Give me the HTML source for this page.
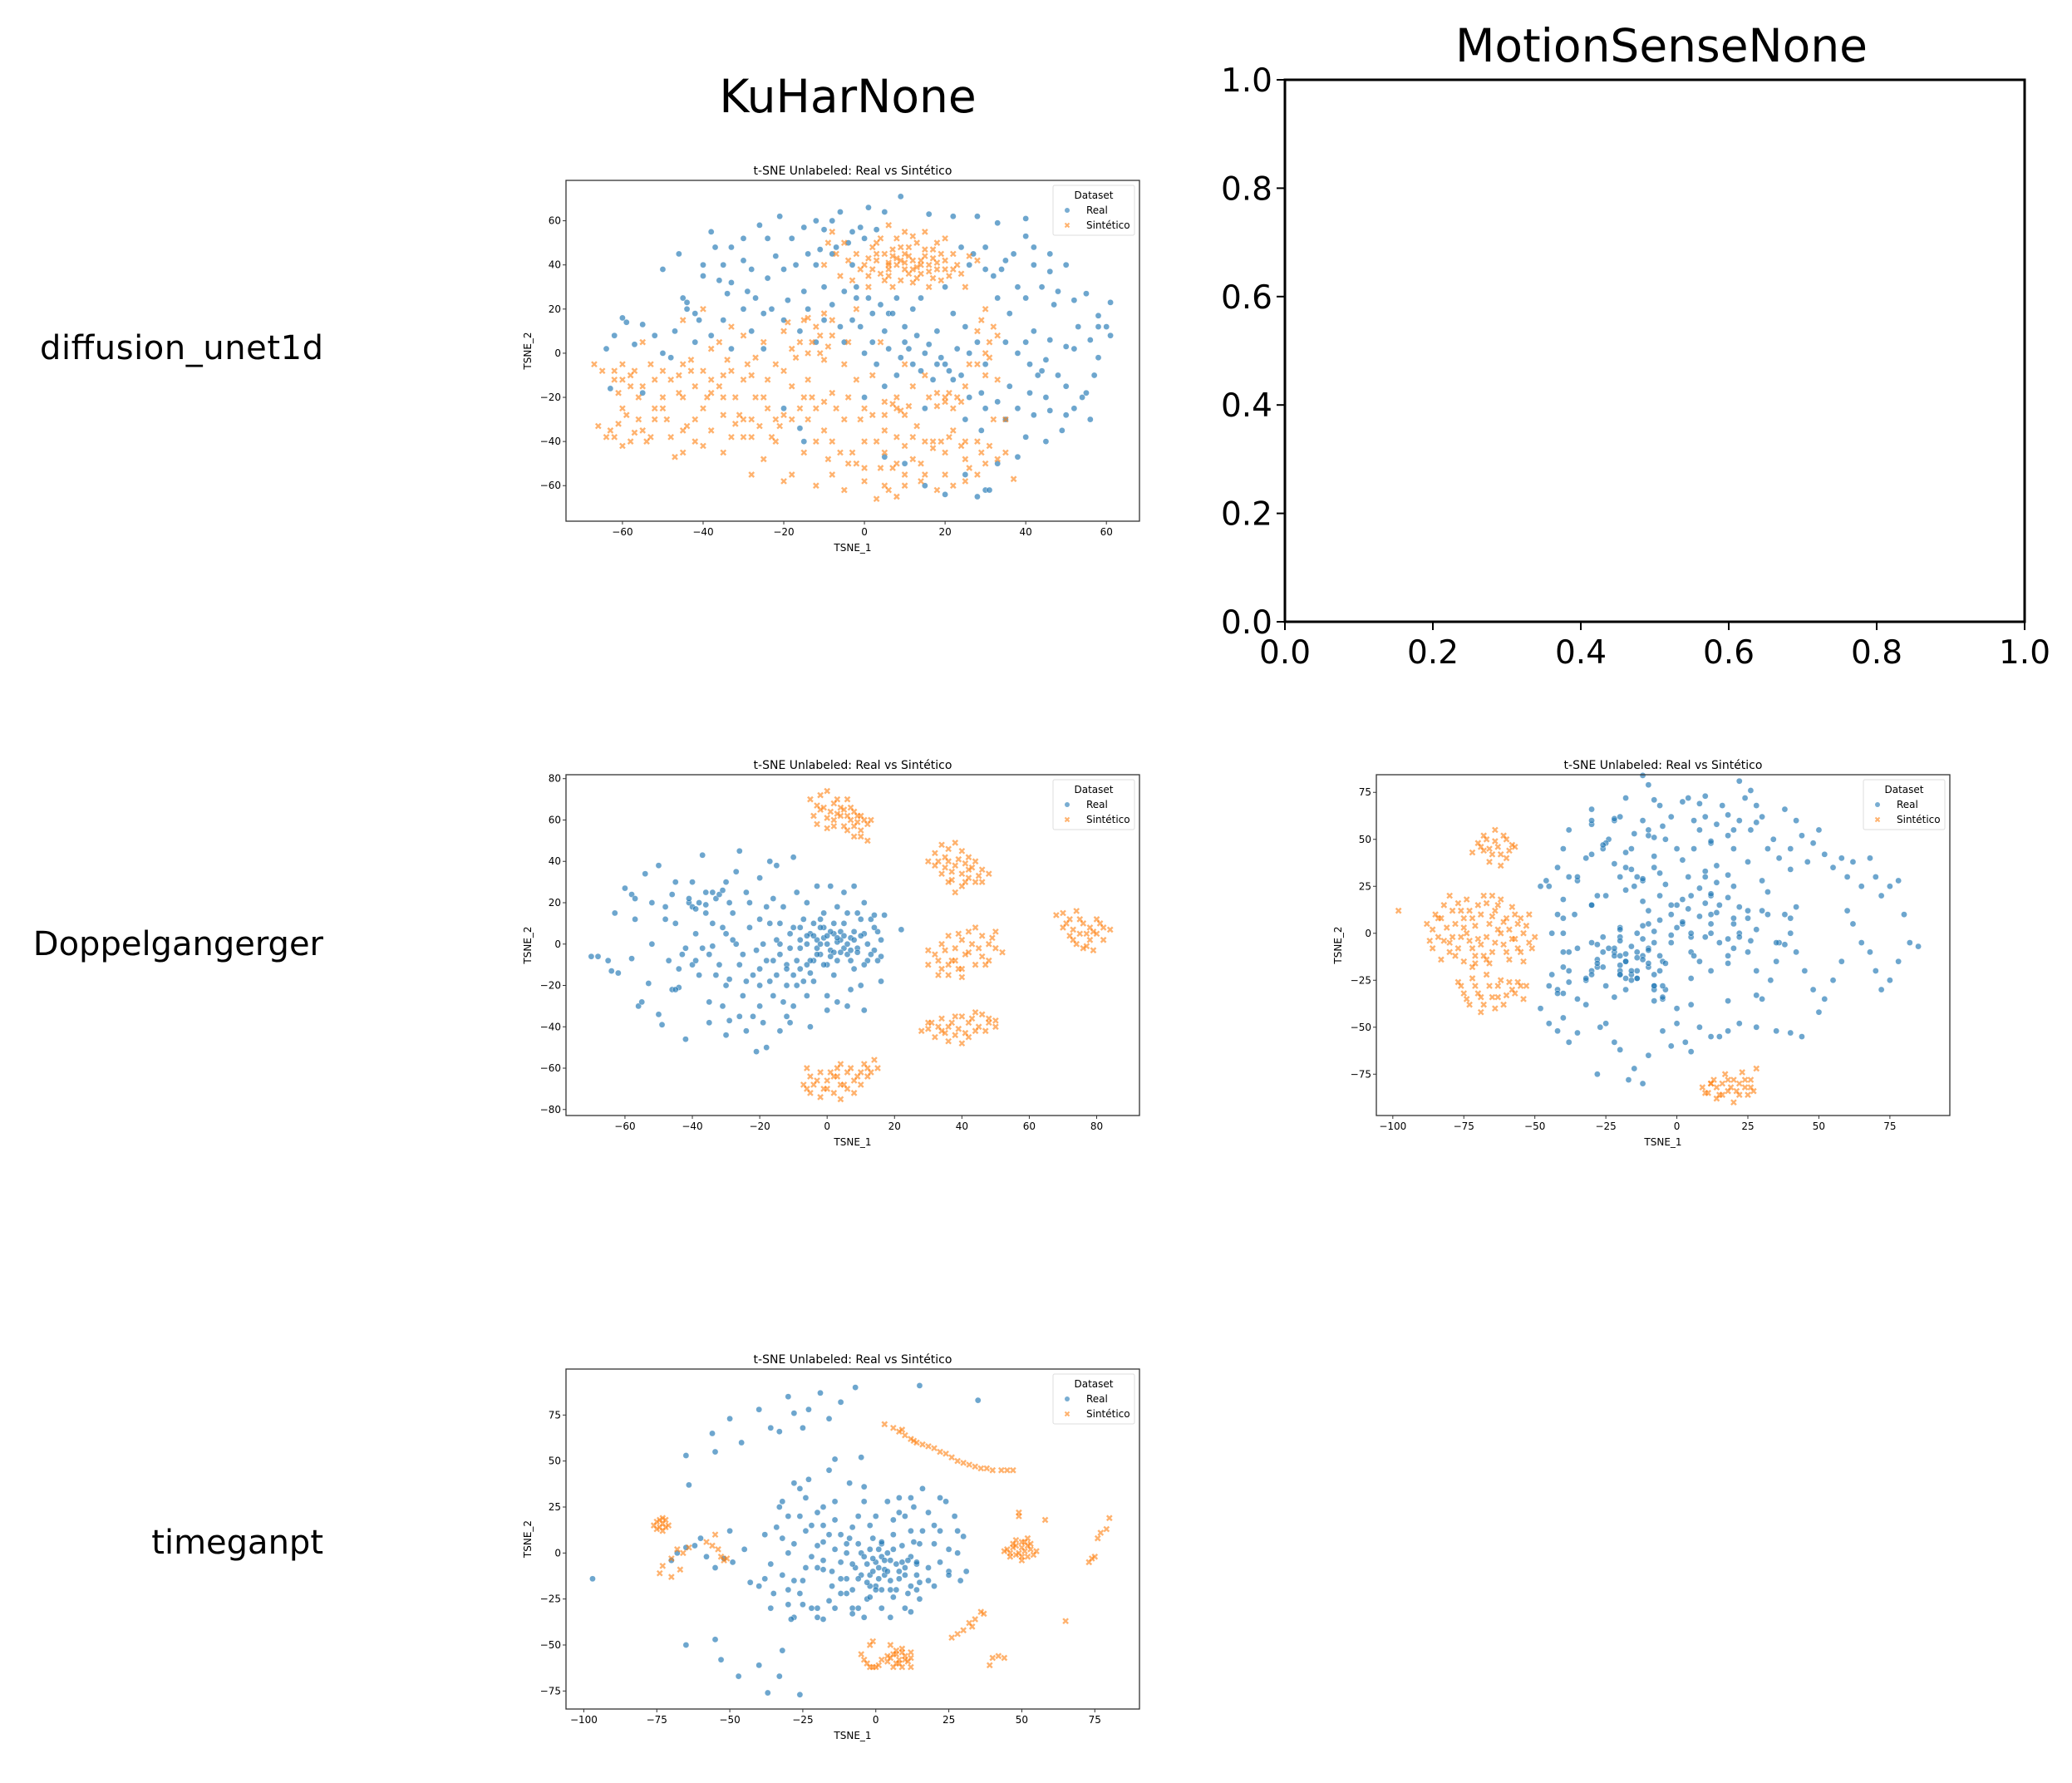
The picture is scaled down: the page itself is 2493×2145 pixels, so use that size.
<!DOCTYPE html>
<html><head><meta charset="utf-8"><style>
html,body{margin:0;padding:0;background:#fff}
svg{display:block;font-family:"DejaVu Sans","Liberation Sans",sans-serif}
</style></head><body>
<svg id="fig" width="2493" height="2145" viewBox="0 0 2493 2145" xmlns="http://www.w3.org/2000/svg">
<rect width="2493" height="2145" fill="#fff"/>
<text x="1020" y="135" font-size="55" text-anchor="middle">KuHarNone</text>
<text x="1999" y="74" font-size="55" text-anchor="middle">MotionSenseNone</text>
<text x="389" y="432" font-size="40" text-anchor="end" textLength="341">diffusion_unet1d</text>
<text x="389" y="1149" font-size="40" text-anchor="end">Doppelgangerger</text>
<text x="389" y="1869" font-size="40" text-anchor="end">timeganpt</text>
<g id="empty"></g>
<g id="p1"></g>
<g id="p2"></g>
<g id="p3"></g>
<g id="p4"></g>
</svg>
<script>
// ---- data (x,y pairs, flattened) ----
const p1Real=[-60,16,-62,8,-64,2,-55,13,-52,8,-50,0,-47,10,-45,25,-46,45,-42,18,-40,40,-38,55,-37,48,-36,33,-33,32,-30,42,-28,38,-26,58,-24,52,-24,34,-22,44,-21,62,-18,52,-15,57,-12,60,-10,56,-8,60,-6,64,-4,50,-1,57,1,66,5,64,9,71,16,63,22,62,28,62,33,59,40,61,40,53,37,45,42,40,46,37,50,40,44,30,40,25,36,18,42,10,38,0,45,-3,52,2,55,27,58,17,60,12,61,23,48,-10,50,-15,55,-18,52,-25,45,-20,42,-28,40,-38,45,-40,35,-30,30,-25,25,-30,28,-65,30,-62,20,-64,15,-60,10,-50,5,-47,24,-10,20,-5,15,0,10,5,5,10,2,18,-2,25,-5,28,-8,22,-10,30,-15,28,-20,38,-16,10,-12,5,-5,5,0,0,3,-5,8,-10,12,-5,18,10,22,18,25,12,28,5,30,-5,12,20,8,25,20,30,26,40,30,48,-3,40,-8,45,-12,40,-30,20,-35,15,-38,8,-42,5,-25,18,-20,15,-28,10,-33,2,-25,2,-55,-18,-63,-16,-20,-25,-16,-34,-15,-40,0,-20,5,-15,15,-25,25,-55,31,-62,56,-30,49,-35,58,-2,61,8,34,38,38,30,33,25,47,22,53,12,57,-10,44,-8,36,-15,32,35,14,25,6,18,-1,12,17,-12,21,-8,
-44,23,-41,15,-34,27,-29,28,-27,25,-23,20,-19,24,-17,40,-14,45,-11,47,-7,48,-3,55,0,52,3,56,-2,30,1,25,4,22,7,18,10,12,13,8,16,4,19,-2,22,-12,26,-20,29,-18,33,-22,38,-25,41,-18,46,-26,50,-28,54,-20,35,5,40,5,46,6,50,3,56,6,58,12,48,28,52,24,46,45,42,48,24,48,27,45,30,38,35,42,-30,52,-33,48,-35,40,-40,35,-14,20,-10,15,-6,12,-3,15,2,5,6,2,9,-2,11,2,14,-8,18,-5,23,2,26,0,29,-35,33,-50,38,-47,43,-10,41,-5,-48,-2,-57,4,-59,14,-44,20,-50,38];
const p1Syn=[0,40,3,42,5,45,8,40,10,38,12,42,14,36,16,40,18,38,20,42,6,35,9,48,13,50,17,47,4,52,10,55,15,55,20,52,22,45,-2,45,-5,50,-6,35,1,30,7,30,12,32,16,30,24,36,25,30,-8,55,6,58,11,44,15,44,7,44,-3,33,19,33,2,48,22,38,28,42,-10,40,9,42,13,39,6,41,17,43,11,36,-15,15,-12,12,-10,18,-13,5,-8,8,-18,2,-20,10,-17,-2,-10,-3,-5,-5,-22,-5,-25,5,-30,8,-33,12,-36,5,-28,-10,-35,-10,-40,-8,-42,-15,-45,-5,-48,-12,-50,-20,-55,-15,-58,-10,-60,-5,-62,-12,-65,-8,-60,-25,-63,-35,-58,-40,-55,-35,-52,-30,-50,-25,-48,-38,-45,-45,-42,-30,-40,-42,-38,-35,-35,-28,-32,-32,-30,-38,-28,-30,-25,-20,-22,-30,-20,-28,-18,-15,-15,-20,-12,-25,-10,-35,-8,-18,-5,-30,-2,-12,0,-25,5,-22,8,-25,10,-28,8,-20,5,-35,-15,-45,-18,-55,-12,-60,-8,-55,-5,-62,0,-58,3,-66,5,-60,8,-65,10,-55,12,-48,15,-55,18,-62,20,-45,15,-40,10,-42,22,-35,20,-20,22,-25,18,-18,25,-15,28,-5,30,0,28,10,32,12,30,20,33,-12,30,-50,35,-45,28,-40,25,-48,-25,-48,-28,-55,-20,-58,-45,-20,-35,-45,-32,-20,-40,-25,-27,-2,-4,5,4,5,10,-5,15,-10,12,-15,-8,15,-2,20,-40,20,-45,15,-55,5,-67,-5,-66,-33,-60,-42,-53,-38,-47,-47,-30,-30,-14,-30,0,-40,5,-45,-6,-45,25,-58,20,-55,32,-30,35,-30,37,-57,-57,-8,-61,-18,-52,-12,-38,-18,-33,-38,-23,-38,-9,-48,-2,-50,7,-52,17,-40,13,-33,2,-10,-11,0,-14,16,-19,14,-62,-38,-56,-30,-44,-33,
2,38,4,36,6,38,8,43,10,41,12,38,14,40,16,37,18,41,20,38,3,45,7,47,11,48,15,47,19,45,21,35,23,40,5,33,9,33,13,34,17,34,1,43,-1,38,-4,42,3,50,8,52,12,53,18,50,26,44,1,35,-7,45,-9,50,14,42,10,45,6,40,-60,-12,-58,-15,-62,-8,-56,-20,-59,-28,-61,-32,-57,-36,-54,-40,-64,-38,-52,-25,-49,-30,-45,-35,-42,-40,-46,-10,-43,-8,-38,-12,-36,-15,-33,-8,-30,-12,-27,-20,-24,-25,-21,-33,-18,-30,-16,-25,-13,-20,-10,-22,-7,-25,-4,-20,-1,-30,2,-28,5,-28,7,-23,9,-26,11,-24,20,-22,21,-18,23,-20,18,-24,16,-20,24,-22,19,-40,17,-43,21,-38,24,-42,14,-50,8,-50,4,-52,0,-52,-4,-50,6,-62,10,-60,14,-58,-14,-12,-11,8,-9,3,-14,0,-16,5,-20,-8,-24,-12,-29,-5,-34,-3,-38,2,-43,-3,-50,-8,-53,-5,-46,-18,-39,-20,-35,-20,-31,-28,-28,-38,-26,-33,-22,-40,-12,-40,-8,-40,-3,-45,3,-40,8,-38,12,-38,25,-40,29,-45,31,-42,33,-48,26,-52,22,-60,28,-55,30,-10,31,5,33,8,29,15,31,-2,26,-5];
const p2Real=[-70,-6,-68,-6,-65,-8,-64,-13,-62,-14,-63,15,-60,27,-58,24,-57,12,-58,-7,-56,-30,-55,-28,-54,34,-53,-19,-52,20,-50,38,-50,-34,-49,-39,-48,12,-47,-8,-46,24,-45,30,-44,-21,-43,-5,-42,-46,-41,20,-40,18,-39,5,-38,-15,-37,43,-36,25,-35,-28,-34,10,-33,22,-32,-10,-31,-30,-30,5,-29,-37,-28,15,-27,35,-26,45,-25,-5,-24,-42,-23,20,-22,-15,-21,-52,-20,32,-19,0,-18,-50,-17,10,-16,-25,-15,38,-14,-5,-13,18,-12,-35,-11,5,-10,42,-10,-15,-9,25,-8,-2,-7,12,-6,-25,-5,5,-4,-8,-3,2,-2,-5,-1,8,0,0,1,-3,2,5,3,-8,4,2,5,10,6,-5,7,3,8,-12,9,15,10,-20,11,5,12,-8,13,12,14,-3,15,6,16,-18,17,14,22,7,3,18,-3,28,0,-25,5,25,-15,-15,-20,-20,-25,-25,-30,-20,-35,-5,-40,-10,-45,10,-30,30,-20,12,-10,-30,0,-32,8,28,11,-32,-5,-40,-14,-42,-17,40,-22,-35,-8,-12,-12,-20,2,-15,6,15,-2,12,-18,-8,-6,20,1,28,-27,0,-24,25,-33,-15,-36,15,-52,0,-46,-22,-40,30,-30,-44,14,14,16,-6,10,12,-4,-18,-16,22,-1,3,1,6,-3,-2,3,1,5,-2,-2,0,2,-4,4,6,-6,4,7,-3,-4,10,0,-10,8,6,-8,2,-5,-8,9,-2,-10,8,-12,-10,-14,0,
-41,22,-39,17,-38,20,-36,19,-34,25,-32,24,-31,26,-29,20,-42,-2,-39,-8,-37,-2,-34,-1,-31,8,-28,2,-26,-10,-24,-18,-23,8,-21,-3,-20,-12,-18,18,-17,-18,-16,-8,-15,2,-14,10,-13,-28,-12,-12,-11,-2,-9,-8,-8,8,-7,-18,-6,0,-5,-14,-4,4,-3,-5,-2,8,-1,-10,0,4,1,-6,2,10,3,3,4,-4,5,4,6,0,7,-8,8,2,9,-4,10,4,11,-10,12,0,13,-5,14,8,15,-8,16,2,-1,15,-6,-10,-9,-20,-20,-30,-26,-35,-35,-38,-45,-22,-48,18,-57,22,-44,-12,-29,-17,-19,-38,-11,-38,3,-28,7,-22,11,20,6,-30];
const p2Syn=[-5,70,-2,72,0,74,2,68,4,66,6,70,8,64,10,62,12,58,-4,62,-3,58,0,56,2,60,4,62,6,55,8,52,10,55,12,50,13,60,7,60,3,63,-1,66,5,57,9,59,30,40,32,44,34,48,36,46,38,49,40,45,42,42,44,40,46,36,48,34,44,30,40,28,38,25,36,30,34,34,32,38,38,38,42,36,40,34,36,40,42,32,35,42,46,30,30,-10,32,-5,34,0,36,4,38,-2,40,2,42,6,44,8,46,4,48,0,50,-2,52,-4,48,-8,44,-10,40,-12,36,-15,34,-12,38,-8,42,-4,46,-6,33,-15,40,-16,30,-3,50,6,68,14,70,15,72,12,74,16,76,10,78,8,80,5,82,8,84,7,78,2,74,0,72,4,76,-2,80,12,70,8,79,-3,82,2,75,5,28,-42,30,-38,32,-45,34,-36,36,-40,38,-44,40,-35,42,-38,44,-42,46,-34,48,-38,50,-40,36,-47,40,-48,44,-33,48,-36,30,-41,34,-42,42,-45,50,-37,-7,-68,-5,-72,-3,-66,-1,-70,1,-62,3,-64,5,-68,7,-60,9,-64,11,-58,13,-62,15,-60,-5,-64,-2,-74,0,-66,2,-72,4,-58,6,-70,8,-66,10,-68,12,-64,14,-56,4,-75,-6,-60,
-3,67,1,64,3,70,5,65,7,66,9,62,11,60,0,61,2,57,6,62,8,57,10,52,-2,65,33,40,35,37,37,35,39,41,41,39,43,37,45,33,37,31,41,30,33,-8,35,-3,37,-8,39,5,41,-5,43,0,45,-2,47,-10,49,3,39,-12,36,-10,71,10,73,7,75,12,77,5,79,6,81,10,73,2,77,-1,31,-38,33,-40,35,-43,37,-38,39,-41,41,-43,43,-36,45,-40,47,-42,38,-35,-4,-68,-2,-62,0,-70,2,-64,4,-68,6,-62,8,-72,10,-62,12,-60,-6,-70,3,-60];
const p3Real=[-45,-48,-42,-52,-40,-45,-38,-58,-35,-53,-28,-75,-27,-50,-25,-48,-22,-58,-20,-62,-17,-78,-15,-72,-12,-80,-10,-65,-5,-52,-2,-60,0,-48,3,-58,5,-63,8,-50,12,-55,15,-55,18,-52,22,-48,28,-50,35,-52,40,-53,44,-55,-48,25,-46,28,-42,35,-40,45,-38,55,-35,28,-32,40,-30,58,-28,20,-26,45,-24,50,-22,60,-20,62,-18,72,-16,45,-14,30,-12,60,-10,52,-8,35,-6,68,-4,50,-2,62,0,45,2,70,4,72,6,60,8,55,10,62,12,48,14,58,16,68,18,52,20,45,22,60,24,72,26,55,28,68,30,62,32,45,34,50,36,40,38,66,40,45,42,60,44,52,46,38,48,48,50,55,52,42,55,35,58,40,60,30,62,38,65,25,68,40,70,30,72,20,75,25,78,28,80,10,82,-5,85,-7,78,-15,75,-25,72,-30,70,-20,68,-10,65,-5,62,5,60,12,58,-15,55,-25,52,-35,50,-42,48,-30,45,-20,42,-10,40,0,38,10,36,-5,35,-15,33,-25,30,-35,28,-20,25,-10,22,0,20,5,18,-12,15,-5,12,10,10,-2,8,-15,5,-10,2,5,0,15,-2,-5,-5,-15,-8,-22,-10,-18,-12,-12,-14,-20,-16,-25,-18,-15,-20,-22,-22,-10,-25,-28,-28,-18,-30,-5,-32,-25,-35,-35,-38,-20,-40,-10,-42,-30,-44,0,-36,10,-30,15,-25,20,-20,30,-15,25,-10,5,-5,-35,0,-40,5,20,10,30,15,15,20,25,25,8,30,12,35,-5,-6,-20,-4,-16,-14,-24,-12,-14,-8,-28,-18,-30,-20,-20,-14,-10,-16,-22,-6,-12,-18,-24,-4,-30,-10,-8,5,-2,-20,3,5,0,18,-3,32,10,-30,15,-40,8,-45,25,-35,30,-18,35,-12,28,12,20,25,12,-25,48,-10,55,-30,60,-20,-2,-35,-8,-40,-18,-38,
-26,-14,-24,-20,-22,-16,-20,-26,-18,-20,-17,-10,-16,-18,-15,-28,-14,-14,-13,-22,-12,-18,-11,-26,-10,-10,-9,-22,-8,-16,-7,-28,-6,-8,-5,-20,-4,-12,-3,-26,-2,-2,-1,-14,0,-8,1,-20,2,0,3,-12,4,12,5,2,6,-6,7,20,8,8,9,-2,10,14,11,-10,12,4,13,22,14,-2,15,10,16,-12,17,2,18,18,19,-6,20,12,21,-18,23,8,24,-4,26,14,27,-12,29,4,30,18,31,-6,32,10,33,-16,34,14,36,-22,37,2,39,-8,41,-18,43,6,45,-26,47,12,49,-8,51,-15,53,20,55,-5,57,28,59,-22,61,18,63,-30,66,8,69,-8,71,10,73,26,76,-10,79,22,81,-12,84,-8,-30,28,-33,18,-36,5,-38,-5,-34,-8,-28,5,-24,12,-20,18,-16,6,-12,20,-8,26,-4,22,-2,12,0,28,2,38,-6,40,8,42,14,32,22,30,28,40,34,25,38,-30,42,-38,30,-40,18,-42,10,-40,0,-38,-10,-44,-22,-42,-32,-45,-28,-48,-40,-40,-32,-30,-20,-32,-24,-32,-38,-22,-34,-8,-36,-5,-28,-20,-12,-24,-8,-30,-22,-28,-16,-18];
const p3Syn=[-70,48,-68,52,-66,45,-64,55,-62,42,-60,50,-58,47,-66,38,-62,36,-72,43,-60,40,-64,49,-68,44,-57,46,-88,5,-86,-8,-85,10,-84,-2,-82,15,-80,20,-80,-5,-78,5,-78,-12,-76,12,-75,-15,-74,18,-74,0,-72,8,-72,-8,-70,15,-70,-3,-68,20,-68,-12,-66,5,-66,-16,-64,12,-64,-5,-62,18,-62,0,-60,-10,-60,8,-58,-3,-58,14,-56,-8,-56,5,-54,0,-52,10,-52,-5,-50,-2,-54,-15,-76,-2,-72,-18,-80,-10,-86,2,-83,-14,-76,-28,-74,-35,-72,-24,-70,-32,-68,-38,-66,-28,-64,-40,-62,-25,-60,-33,-58,-30,-56,-26,-54,-35,-53,-28,-67,-22,-63,-34,-98,12,9,-82,11,-85,13,-78,14,-88,16,-80,17,-75,18,-84,20,-78,22,-86,23,-74,24,-82,26,-78,27,-84,28,-72,12,-80,20,-90,15,-86,
-67,50,-65,42,-63,46,-61,52,-59,44,-69,46,-84,8,-82,-4,-81,3,-79,12,-77,-8,-77,16,-75,3,-73,-4,-73,12,-71,-12,-71,4,-69,10,-69,-6,-67,16,-67,-2,-65,9,-65,-10,-63,2,-63,15,-61,-6,-61,6,-59,-14,-59,2,-57,10,-57,-3,-55,-10,-55,8,-53,4,-51,-8,-87,-4,-83,8,-79,-2,-75,8,-71,-16,-67,-14,-65,20,-77,-26,-75,-32,-73,-38,-71,-28,-69,-34,-65,-34,-63,-28,-61,-38,-59,-26,-57,-32,-55,-28,-69,-42,10,-85,12,-80,14,-82,16,-86,18,-78,19,-82,21,-84,22,-80,24,-78,25,-86,26,-82];
const p4Real=[-97,-14,-65,-50,-55,-47,-53,-58,-47,-67,-40,-61,-37,-76,-33,-67,-32,-53,-26,-77,-65,53,-64,37,-55,55,-56,65,-50,73,-46,60,-40,78,-36,68,-33,66,-30,85,-28,76,-25,68,-19,87,-23,78,-12,82,-16,73,-7,90,15,91,35,83,-14,51,-5,52,-60,8,-62,4,-65,3,-68,0,-70,-4,-58,-2,-55,-8,-52,-3,-50,12,-49,-5,-45,2,-43,-16,-40,-18,-38,10,-36,-30,-35,-22,-33,25,-32,-12,-30,20,-28,-35,-26,35,-25,-28,-23,40,-22,-2,-20,-30,-18,15,-16,45,-15,-10,-14,28,-12,-22,-10,5,-9,38,-8,-30,-6,20,-5,-12,-4,28,-2,-18,-1,8,0,-5,1,-8,2,-2,3,-12,4,0,5,-15,6,10,7,-20,8,30,9,-5,10,20,11,-22,12,-2,13,25,14,-12,15,5,16,35,18,-15,20,15,22,-5,24,28,25,-10,27,20,28,0,30,9,31,-10,-3,-25,-8,-20,-12,-5,-15,-18,-20,-8,-25,-15,-28,5,-30,-20,-24,12,-18,25,-10,-14,-6,5,-2,15,2,-20,6,18,10,-8,15,-25,20,-18,-1,-3,1,2,-3,-6,3,-9,-2,-12,5,-4,-5,0,0,-18,2,5,8,-10,-7,-8,12,12,-12,10,-16,-26,-8,-33,5,-35,12,-32,-20,-35,-4,-35,-29,-36,25,-12,29,-15,22,30,
-10,0,-8,-6,-6,-14,-4,-2,-3,-16,-2,2,-1,-10,0,-20,1,-14,2,6,3,-4,4,-10,5,-20,6,2,7,-6,8,-14,9,4,10,-12,11,-4,12,-18,13,6,14,-6,15,-16,16,12,-9,8,-12,-14,-14,2,-16,10,-18,-4,-20,4,-22,15,-24,-8,-26,20,-28,-15,-30,0,-32,8,-34,14,-36,-6,-38,-14,-30,-28,-26,-22,-22,-30,-18,-36,-14,-30,-10,-22,-6,-30,-2,-24,2,-30,6,-24,10,-30,14,-20,18,-8,20,5,22,12,25,2,28,12,18,22,12,30,8,22,4,28,0,20,-4,36,-8,14,-14,18,-20,22,-24,30,-28,38,-32,28,-18,6,14,-5,-18,-9];
const p4Syn=[3,70,6,68,8,66,10,64,12,62,14,60,16,59,18,58,20,57,22,55,24,54,26,52,28,50,30,49,32,48,34,47,36,46,38,46,40,45,43,45,45,45,47,45,9,67,13,61,-75,17,-74,14,-73,16,-72,18,-73,12,-71,15,-68,2,-66,0,-64,3,-70,-3,-73,-7,-74,-11,-70,-13,-67,-9,-58,6,-56,4,-55,10,-54,2,-53,-2,-52,-4,-51,-3,45,2,47,5,49,0,50,3,51,6,52,-2,53,2,48,7,46,-2,50,-4,55,1,49,22,49,20,58,18,80,19,79,13,77,11,76,8,74,-3,73,-5,75,-2,26,-46,28,-44,30,-42,32,-38,33,-40,34,-36,36,-32,37,-33,-2,-50,-1,-48,-3,-60,-1,-62,1,-61,-5,-55,-4,-58,5,-57,6,-55,7,-60,8,-58,9,-62,10,-56,11,-59,12,-54,4,-59,7,-53,9,-52,12,-62,5,-50,39,-61,40,-57,42,-56,44,-57,65,-37,
-76,15,-74,18,-72,14,-75,13,-73,19,48,4,50,6,52,4,46,0,48,-1,50,-2,51,1,53,5,47,3,44,1,52,8,54,-1,-2,-62,0,-62,2,-58,4,-56,6,-62,8,-60,10,-58,12,-57,7,-55,9,-54];

const SVGNS="http://www.w3.org/2000/svg";
function mk(tag,attrs,parent){const e=document.createElementNS(SVGNS,tag);for(const k in attrs)e.setAttribute(k,attrs[k]);parent.appendChild(e);return e;}

function drawPlot(g,box,xlim,ylim,xticks,yticks,real,syn){
  const sx=v=>box.l+(v-xlim[0])/(xlim[1]-xlim[0])*(box.r-box.l);
  const sy=v=>box.b-(v-ylim[0])/(ylim[1]-ylim[0])*(box.b-box.t);
  const cx=(box.l+box.r)/2;
  let t=mk('text',{x:cx,y:box.t-7,'font-size':14,'text-anchor':'middle'},g);t.textContent='t-SNE Unlabeled: Real vs Sintético';
  
  
  const marks=mk('g',{},g);
  for(let i=0;i+1<real.length;i+=2){
    const c=mk('circle',{cx:sx(real[i]),cy:sy(real[i+1]),r:3.6,fill:'#1f77b4','fill-opacity':0.65,stroke:'#fff','stroke-width':0.4},marks);
    
    
  }
  for(let i=0;i+1<syn.length;i+=2){
    const x=sx(syn[i]),y=sy(syn[i+1]),s=3;
    const p=mk('path',{d:`M${x-s},${y-s}L${x+s},${y+s}M${x-s},${y+s}L${x+s},${y-s}`,stroke:'#ff7f0e','stroke-opacity':0.6,'stroke-width':2.4},marks);
    
    
  }
  const fr=mk('rect',{x:box.l,y:box.t,width:box.r-box.l,height:box.b-box.t,fill:'none',stroke:'#333','stroke-width':1.3},g);
  
  
  xticks.forEach(v=>{const x=sx(v);mk('line',{x1:x,x2:x,y1:box.b,y2:box.b+4,stroke:'#333','stroke-width':1},g);
    const tt=mk('text',{x:x,y:box.b+17,'font-size':12,'text-anchor':'middle'},g);tt.textContent=String(v).replace('-','−');
    
    });
  yticks.forEach(v=>{const y=sy(v);mk('line',{x1:box.l-4,x2:box.l,y1:y,y2:y,stroke:'#333','stroke-width':1},g);
    const tt=mk('text',{x:box.l-6,y:y+4,'font-size':12,'text-anchor':'end'},g);tt.textContent=String(v).replace('-','−');
    
    });
  let xl=mk('text',{x:cx,y:box.b+36,'font-size':12,'text-anchor':'middle'},g);xl.textContent='TSNE_1';
  
  
  const my=(box.t+box.b)/2;
  let yl=mk('text',{x:box.l-42,y:my,'font-size':12,'text-anchor':'middle',transform:`rotate(-90 ${box.l-42} ${my})`},g);yl.textContent='TSNE_2';
  
  
  const lg=mk('g',{},g);
  
  
  const L=box.r-104,T=box.t+6;
  mk('rect',{x:L,y:T,width:98,height:60,rx:2,fill:'#fff','fill-opacity':0.8,stroke:'#ddd','stroke-width':1},lg);
  let a=mk('text',{x:L+49,y:T+16,'font-size':12,'text-anchor':'middle'},lg);a.textContent='Dataset';
  mk('circle',{cx:L+17,cy:T+30,r:3,fill:'#1f77b4','fill-opacity':0.6},lg);
  let b=mk('text',{x:L+40,y:T+34,'font-size':12},lg);b.textContent='Real';
  const s=2.5;mk('path',{d:`M${L+17-s},${T+48-s}L${L+17+s},${T+48+s}M${L+17-s},${T+48+s}L${L+17+s},${T+48-s}`,stroke:'#ff7f0e','stroke-opacity':0.6,'stroke-width':2},lg);
  let c=mk('text',{x:L+40,y:T+52,'font-size':12},lg);c.textContent='Sintético';
}
const ticks=(a,b,s)=>{const r=[];for(let v=a;v<=b;v+=s)r.push(v);return r;};
drawPlot(document.getElementById('p1'),{l:681,r:1371,t:217,b:627},[-74,68.2],[-76.1,78.3],ticks(-60,60,20),ticks(-60,60,20),p1Real,p1Syn);
drawPlot(document.getElementById('p2'),{l:681,r:1371,t:932,b:1342},[-77.5,92.7],[-82.9,81.9],ticks(-60,80,20),ticks(-80,80,20),p2Real,p2Syn);
drawPlot(document.getElementById('p3'),{l:1656,r:2346,t:932,b:1342},[-105.8,96.1],[-97,84.4],ticks(-100,75,25),ticks(-75,75,25),p3Real,p3Syn);
drawPlot(document.getElementById('p4'),{l:681,r:1371,t:1647,b:2056},[-106.1,90.3],[-84.8,100],ticks(-100,75,25),ticks(-75,75,25),p4Real,p4Syn);

(function(){
  const g=document.getElementById('empty');
  const l=1546,r=2436,t=96,b=748;
  mk('rect',{x:l,y:t,width:r-l,height:b-t,fill:'none',stroke:'#000','stroke-width':3},g);
  const vals=[0,0.2,0.4,0.6,0.8,1.0];
  vals.forEach(v=>{
    const x=l+v*(r-l),y=b-v*(b-t);
    mk('line',{x1:x,x2:x,y1:b,y2:b+10,stroke:'#000','stroke-width':2},g);
    mk('line',{x1:l-10,x2:l,y1:y,y2:y,stroke:'#000','stroke-width':2},g);
    const tx=mk('text',{x:x,y:b+50,'font-size':39,'text-anchor':'middle'},g);tx.textContent=v.toFixed(1);
    
    
    const ty=mk('text',{x:l-15,y:y+14,'font-size':39,'text-anchor':'end'},g);ty.textContent=v.toFixed(1);
    
    
  });
})();
</script>
</body></html>
